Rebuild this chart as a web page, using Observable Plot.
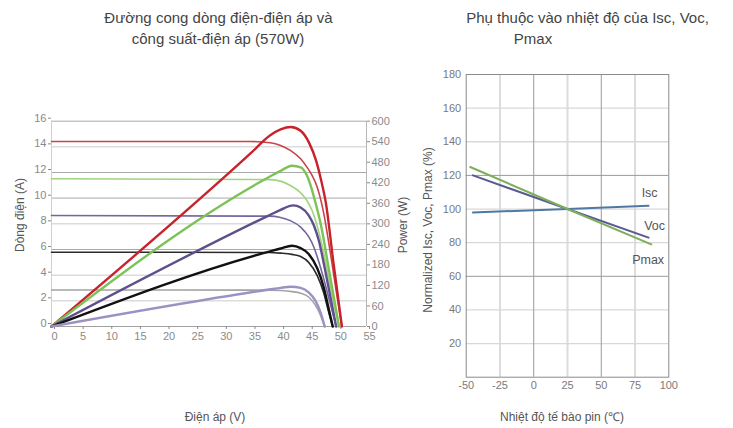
<!DOCTYPE html>
<html>
<head>
<meta charset="utf-8">
<script src="https://cdn.jsdelivr.net/npm/d3@7"></script>
<script src="https://cdn.jsdelivr.net/npm/@observablehq/plot@0.6"></script>
<style>
  html, body { margin: 0; padding: 0; background: #fff; }
  #wrap { position: relative; width: 733px; height: 428px; overflow: hidden; font-family: "Liberation Sans", Arial, sans-serif; }
  #wrap svg { position: absolute; left: 0; top: 0; }
</style>
</head>
<body>
<div id="wrap"></div>
<script>
// ---------- Left chart data (I-V and P-V curves) ----------
const voltTicks = [0, 5, 10, 15, 20, 25, 30, 35, 40, 45, 50, 55];
const currentTicks = [0, 2, 4, 6, 8, 10, 12, 14, 16];
const powerTicks = [0, 60, 120, 180, 240, 300, 360, 420, 480, 540, 600];

const redIV_V = [0, 34.7, 38.2, 40, 41.7, 43.5, 44.6, 45.5, 46.4, 47.5, 48.6, 49.7, 50.7];
const redIV_I = [14.42, 14.42, 14.32, 14.11, 13.72, 13.07, 12.42, 11.77, 10.86, 8.9, 6.0, 2.8, 0];
const redPV_V = [0, 34.7, 38.2, 40, 41.8, 43.5, 45, 46.2, 47.1, 47.9, 49.2, 50.7];
const redPV_P = [0, 505, 559, 576, 583, 572, 536, 485, 426, 362, 190, 0];

const greenIV_V = [0, 38.2, 40, 41.7, 43.5, 44.6, 45.5, 46.1, 47.3, 48.5, 49.4, 50.2];
const greenIV_I = [11.51, 11.45, 11.33, 10.99, 10.42, 9.82, 9.04, 8.26, 6.2, 3.5, 1.6, 0];
const greenPV_V = [0, 38, 40, 42, 43.5, 44.6, 45.5, 46.2, 47, 48.5, 50.2];
const greenPV_P = [0, 437, 455, 470, 465, 441, 398, 355, 300, 160, 0];

const purpleIV_V = [0, 38, 40, 41.7, 43.5, 44.9, 45.8, 46.7, 47.6, 48.6, 49.7];
const purpleIV_I = [8.65, 8.6, 8.5, 8.25, 7.75, 7.0, 6.2, 5.0, 3.6, 1.9, 0];
const purplePV_V = [0, 38, 40, 42.2, 43.5, 44.9, 45.8, 46.7, 47.6, 48.6, 49.7];
const purplePV_P = [0, 325, 341, 354, 348, 325, 296, 250, 180, 95, 0];

const blackIV_V = [0, 38, 40, 42, 43.5, 44.9, 46.4, 47.5, 48.4, 49.1];
const blackIV_I = [5.79, 5.77, 5.72, 5.62, 5.45, 5.0, 3.97, 2.67, 1.11, 0];
const blackPV_V = [0, 38, 40, 42, 43.5, 44.9, 46.4, 47.5, 48.4, 49.1];
const blackPV_P = [0, 219, 228, 236, 229, 212, 170, 116, 52, 0];

const lowIV_V = [0, 38, 40, 42, 43.5, 44.9, 46.1, 47.0, 47.7];
const lowIV_I = [2.85, 2.83, 2.8, 2.72, 2.6, 2.3, 1.65, 0.85, 0];
const lowPV_V = [0, 38, 40, 41.8, 43.5, 44.9, 46.1, 47.0, 47.7];
const lowPV_P = [0, 108, 113, 116, 113, 100, 75, 40, 0];

// ---------- Right chart data (temperature dependence) ----------
const tempTicks = [-50, -25, 0, 25, 50, 75, 100];
const pctTicks = [20, 40, 60, 80, 100, 120, 140, 160, 180];
const iscT = [-45, 25, 85];
const iscVal = [98, 100, 102];
const vocT = [-45, 25, 85];
const vocVal = [120, 100, 83];
const pmaxT = [-47, 25, 87];
const pmaxVal = [125, 100, 79];
const seriesLabels = ["Isc", "Voc", "Pmax"];
const labelT = [85.8, 89.5, 84.7];
const labelVal = [109.8, 90.2, 69.7];

// ---------- helpers ----------
const rows = (xs, ys, key) => xs.map((x, i) => ({x, y: ys[i], key}));
const FONT = "Liberation Sans, Arial, sans-serif";
const W = 733, H = 428;
const plain = d => String(d);

const ivSeries = [
  {d: rows(redIV_V, redIV_I, "red"), c: "#c9434b"},
  {d: rows(greenIV_V, greenIV_I, "green"), c: "#9fd57f"},
  {d: rows(purpleIV_V, purpleIV_I, "purple"), c: "#7565a0"},
  {d: rows(blackIV_V, blackIV_I, "black"), c: "#2b2b2b"},
  {d: rows(lowIV_V, lowIV_I, "low"), c: "#a3a3a3"}
];
const pvSeries = [
  {d: rows(redPV_V, redPV_P, "red"), c: "#c8232c"},
  {d: rows(greenPV_V, greenPV_P, "green"), c: "#7dc257"},
  {d: rows(purplePV_V, purplePV_P, "purple"), c: "#5f4f8c"},
  {d: rows(blackPV_V, blackPV_P, "black"), c: "#111111"},
  {d: rows(lowPV_V, lowPV_P, "low"), c: "#9d90c3"}
];

const leftMargins = {marginLeft: 51, marginRight: W - 366, marginTop: 120.7, marginBottom: H - 326};

const darkGrid = [16, 12, 6];
const lightGrid = currentTicks.filter(v => v > 0 && !darkGrid.includes(v));

// Current (left axis) plot
const currentPlot = Plot.plot({
  width: W, height: H, ...leftMargins,
  style: {fontFamily: FONT, background: "transparent", overflow: "visible"},
  x: {domain: [0, 55]},
  y: {domain: [0, 16]},
  marks: [
    Plot.ruleY(lightGrid, {stroke: "#dcdcdc", strokeWidth: 1.5}),
    Plot.ruleY([10], {stroke: "#c8c8c8", strokeWidth: 1.2}),
    Plot.ruleY(darkGrid, {stroke: "#a9a9a9", strokeWidth: 1}),
    Plot.ruleX([0], {stroke: "#d0d0d0"}),
    ...ivSeries.map(s => Plot.line(s.d, {x: "x", y: "y", stroke: s.c, strokeWidth: 1.6, curve: "monotone-x"})),
    Plot.ruleY([0], {stroke: "#a0a0a0"}),
    Plot.axisX(voltTicks, {anchor: "bottom", tickSize: 3, tickPadding: 3, fontSize: 11, color: "#8a8a8a", label: null, dx: 3, tickFormat: plain}),
    Plot.axisY(currentTicks, {anchor: "left", tickSize: 3, tickPadding: 2, fontSize: 11, color: "#8a8a8a", label: null, dy: -3, tickFormat: plain})
  ]
});

// Power (right axis) plot overlay
const powerPlot = Plot.plot({
  width: W, height: H, ...leftMargins,
  style: {fontFamily: FONT, background: "transparent", overflow: "visible"},
  x: {domain: [0, 55], axis: null},
  y: {domain: [0, 600]},
  marks: [
    Plot.ruleX([55], {stroke: "#b5b5b5"}),
    ...pvSeries.map(s => Plot.line(s.d, {x: "x", y: "y", stroke: s.c, strokeWidth: 2.4, curve: "monotone-x"})),
    Plot.axisY(powerTicks, {anchor: "right", tickSize: 3, tickPadding: 2, fontSize: 11, color: "#8a8a8a", label: null, tickFormat: plain})
  ]
});

// Right chart
const tDark = [0, 50];
const tLight = [-25, 25, 75];
const pDark = [60, 120];
const pLight = [20, 40, 80, 100, 140, 160];
const tempSeries = [
  {d: rows(iscT, iscVal, "Isc"), c: "#4f79a3"},
  {d: rows(vocT, vocVal, "Voc"), c: "#5a5a92"},
  {d: rows(pmaxT, pmaxVal, "Pmax"), c: "#7dae5e"}
];
const tempPlot = Plot.plot({
  width: W, height: H,
  marginLeft: 465.7, marginRight: W - 668.3, marginTop: 74, marginBottom: H - 376.7,
  style: {fontFamily: FONT, background: "transparent", overflow: "visible"},
  x: {domain: [-50, 100]},
  y: {domain: [0, 180]},
  marks: [
    Plot.ruleX(tLight, {stroke: "#dcdcdc", strokeWidth: 2}),
    Plot.ruleY(pLight, {stroke: "#d8d8d8", strokeWidth: 1.3}),
    Plot.ruleX(tDark, {stroke: "#9a9a9a", strokeWidth: 1}),
    Plot.ruleY(pDark, {stroke: "#9a9a9a", strokeWidth: 1}),
    Plot.frame({stroke: "#8a8a8a"}),
    ...tempSeries.map(s => Plot.line(s.d, {x: "x", y: "y", stroke: s.c, strokeWidth: 2})),
    Plot.text(seriesLabels.map((t, i) => ({t, x: labelT[i], y: labelVal[i]})), {x: "x", y: "y", text: "t", fontSize: 12.5, fill: "#555"}),
    Plot.axisX(tempTicks, {anchor: "bottom", tickSize: 0, tickPadding: 4, fontSize: 11, color: "#7a7a7a", label: null, tickFormat: plain}),
    Plot.axisY(pctTicks, {anchor: "left", tickSize: 0, tickPadding: 5, fontSize: 11, color: "#7a7a7a", label: null, tickFormat: plain})
  ]
});

const wrap = document.getElementById("wrap");
wrap.appendChild(currentPlot);
wrap.appendChild(powerPlot);
wrap.appendChild(tempPlot);

// Text overlay: titles and axis titles
const svg = d3.select(wrap).append("svg").attr("width", W).attr("height", H)
  .style("font-family", FONT);
const texts = [
  {t: "Đường cong dòng điện-điện áp và", x: 218.5, y: 17, s: 15, c: "#444"},
  {t: "công suất-điện áp (570W)", x: 218, y: 38, s: 15, c: "#444"},
  {t: "Phụ thuộc vào nhiệt độ của Isc, Voc,", x: 587.5, y: 17, s: 15, c: "#444"},
  {t: "Pmax", x: 533, y: 38, s: 15, c: "#444"},
  {t: "Điện áp (V)", x: 215, y: 417, s: 12, c: "#555"},
  {t: "Nhiệt độ tế bào pin (℃)", x: 562, y: 417, s: 12, c: "#555"},
  {t: "Dòng điện (A)", x: 20, y: 215, s: 12, c: "#555", r: -90},
  {t: "Power (W)", x: 403, y: 225, s: 12, c: "#555", r: -90},
  {t: "Normalized Isc, Voc, Pmax (%)", x: 428, y: 230, s: 12, c: "#555", r: -90}
];
svg.selectAll("text").data(texts).join("text")
  .attr("transform", d => `translate(${d.x},${d.y}) rotate(${d.r || 0})`)
  .attr("text-anchor", "middle")
  .attr("dominant-baseline", "central")
  .attr("font-size", d => d.s)
  .attr("fill", d => d.c)
  .text(d => d.t);
</script>
</body>
</html>
